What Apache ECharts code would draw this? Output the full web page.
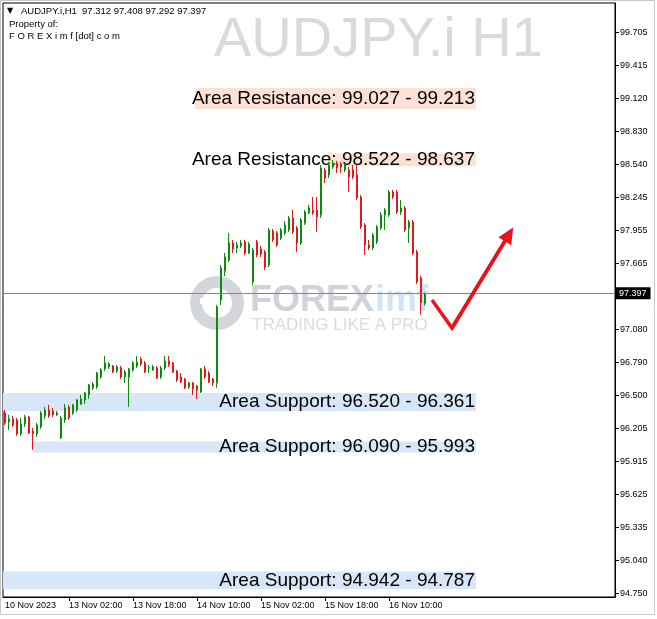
<!DOCTYPE html>
<html>
<head>
<meta charset="utf-8">
<script src="https://cdn.jsdelivr.net/npm/echarts@6/dist/echarts.min.js"></script>
<style>html,body{margin:0;padding:0;background:#fff}#c{width:657px;height:619px}</style>
</head>
<body>
<div id="c"></div>
<script>
// ---- data (AUDJPY.i H1, one bar per hour, first bar 10 Nov 2023 10:00) ----
const openPrices = [96.343,96.264,96.290,96.281,96.158,96.246,96.308,96.184,96.158,96.219,96.317,96.369,96.361,96.326,96.122,96.281,96.396,96.343,96.369,96.422,96.458,96.502,96.564,96.573,96.661,96.732,96.749,96.758,96.714,96.740,96.661,96.661,96.723,96.758,96.820,96.785,96.740,96.723,96.740,96.661,96.740,96.802,96.785,96.714,96.661,96.643,96.573,96.608,96.581,96.528,96.732,96.696,96.643,96.608,97.341,97.597,97.694,97.844,97.800,97.818,97.853,97.756,97.500,97.853,97.791,97.765,97.650,97.950,97.933,97.888,97.933,97.959,98.065,97.977,97.844,98.021,98.109,98.136,98.136,98.092,98.489,98.445,98.516,98.551,98.542,98.489,98.489,98.489,98.445,98.251,98.003,97.827,97.800,97.853,97.977,98.092,98.092,98.295,98.295,98.118,98.153,97.977,98.030,97.765,97.536,97.312];
const closePrices = [96.255,96.290,96.237,96.158,96.246,96.308,96.166,96.158,96.237,96.343,96.369,96.317,96.326,96.343,96.299,96.387,96.299,96.414,96.458,96.467,96.520,96.590,96.599,96.696,96.723,96.785,96.776,96.705,96.749,96.661,96.705,96.732,96.785,96.793,96.776,96.705,96.741,96.749,96.652,96.740,96.802,96.767,96.705,96.634,96.617,96.564,96.608,96.555,96.546,96.732,96.661,96.617,96.608,97.279,97.623,97.721,97.844,97.791,97.827,97.844,97.756,97.835,97.782,97.738,97.747,97.632,97.959,97.871,97.827,97.959,98.003,98.065,97.941,97.844,98.047,98.118,98.153,98.109,98.074,98.507,98.418,98.533,98.551,98.507,98.516,98.533,98.427,98.427,98.242,97.986,97.827,97.800,97.915,97.986,98.092,98.136,98.295,98.251,98.118,98.153,97.959,98.030,97.756,97.500,97.315,97.397];
const lowPrices = [96.237,96.193,96.219,96.140,96.140,96.219,96.158,96.016,96.131,96.202,96.290,96.299,96.308,96.317,96.113,96.255,96.281,96.326,96.352,96.414,96.422,96.467,96.546,96.555,96.643,96.714,96.732,96.696,96.696,96.643,96.608,96.396,96.705,96.740,96.758,96.696,96.696,96.714,96.643,96.643,96.723,96.749,96.696,96.617,96.608,96.555,96.555,96.502,96.467,96.520,96.643,96.608,96.581,96.564,97.297,97.553,97.677,97.756,97.756,97.800,97.738,97.747,97.474,97.721,97.721,97.606,97.632,97.853,97.809,97.871,97.915,97.941,97.924,97.765,97.827,98.003,98.100,98.092,97.941,98.065,98.374,98.418,98.498,98.463,98.463,98.471,98.295,98.410,98.224,97.968,97.738,97.782,97.782,97.835,97.959,97.959,98.074,98.233,98.100,98.092,97.941,97.844,97.738,97.483,97.209,97.292];
const highPrices = [96.369,96.326,96.317,96.299,96.299,96.326,96.317,96.210,96.255,96.361,96.396,96.414,96.387,96.361,96.317,96.422,96.414,96.422,96.467,96.502,96.528,96.599,96.617,96.705,96.740,96.846,96.793,96.767,96.767,96.758,96.723,96.740,96.802,96.846,96.838,96.802,96.767,96.767,96.758,96.758,96.846,96.846,96.793,96.723,96.696,96.652,96.617,96.617,96.590,96.740,96.758,96.714,96.652,97.297,97.650,97.756,97.933,97.871,97.853,97.871,97.871,97.853,97.800,97.871,97.818,97.782,97.977,97.968,97.950,97.977,98.038,98.083,98.136,97.994,98.065,98.136,98.180,98.251,98.251,98.533,98.507,98.560,98.577,98.569,98.560,98.551,98.516,98.533,98.533,98.268,98.021,97.871,97.933,98.003,98.118,98.153,98.312,98.312,98.312,98.224,98.171,98.047,98.047,97.782,97.553,97.408];
const lastPrice = 97.397;
const xTickLabels = ['10 Nov 2023','13 Nov 02:00','13 Nov 18:00','14 Nov 10:00','15 Nov 02:00','15 Nov 18:00','16 Nov 10:00'];
const yTickValues = [99.705,99.415,99.120,98.830,98.540,98.245,97.955,97.665,97.080,96.790,96.500,96.205,95.915,95.625,95.335,95.040,94.750];
// zones
const zoneLow   = [99.027, 98.522, 96.361, 95.993, 94.787];
const zoneHigh  = [99.213, 98.637, 96.520, 96.090, 94.942];
const zoneFromBar = [47.5, 80.75, -0.5, 7, -0.5];
const zoneToBar   = [117.75, 117.75, 117.75, 117.75, 117.75];
const zoneText  = ['Area Resistance: 99.027 - 99.213','Area Resistance: 98.522 - 98.637','Area Support: 96.520 - 96.361','Area Support: 96.090 - 95.993','Area Support: 94.942 - 94.787'];
const zoneIsResistance = [true, true, false, false, false];
// projected path (bar position, price); last point is the arrow head
const arrowBars = [106.75, 111.75, 126.0];
const arrowPrices = [97.341, 97.093, 97.920];

// ---- categories: hourly bars, weekend skipped ----
const MON = ['Jan','Feb','Mar','Apr','May','Jun','Jul','Aug','Sep','Oct','Nov','Dec'];
const TOTAL_SLOTS = 153;
const categories = [];
let t = Date.UTC(2023, 10, 10, 10);
while (categories.length < TOTAL_SLOTS) {
  const d = new Date(t);
  const wd = d.getUTCDay();
  if (wd !== 0 && wd !== 6) {
    categories.push(d.getUTCDate() + ' ' + MON[d.getUTCMonth()] + ' ' + String(d.getUTCHours()).padStart(2,'0') + ':00');
  }
  t += 3600000;
}

const candleData = openPrices.map((o, i) => [o, closePrices[i], lowPrices[i], highPrices[i]]);
const FONT = 'Liberation Sans';
const chart = echarts.init(document.getElementById('c'), null, {renderer: 'canvas'});

const zoneAreas = zoneLow.map((lo, i) => [
  {
    coord: [zoneFromBar[i], zoneHigh[i]],
    itemStyle: {color: zoneIsResistance[i] ? '#fde1d5' : '#d8e7f7'},
    label: {show: true, position: 'insideRight', distance: 1, formatter: zoneText[i], fontSize: 19, color: '#000', fontFamily: FONT}
  },
  {coord: [zoneToBar[i], lo]}
]);

const option = {
  backgroundColor: '#fff',
  animation: false,
  grid: {left: 3, top: 3, right: 42, bottom: 22, show: true, borderColor: '#000', borderWidth: 1},
  xAxis: [
    {
      type: 'category', data: categories, boundaryGap: true,
      axisLine: {show: true, onZero: false, lineStyle: {color: '#000', width: 1}},
      axisTick: {show: true, alignWithLabel: true, length: 4, interval: (i) => i > 0 && i % 16 === 0 && i <= 96, lineStyle: {color: '#000'}},
      axisLabel: {interval: (i) => i % 16 === 0 && i <= 96, formatter: (v, i) => xTickLabels[i / 16], align: 'left', fontSize: 9, color: '#000', margin: 4, fontFamily: FONT},
      splitLine: {show: false}
    },
    {type: 'value', min: -0.5, max: TOTAL_SLOTS - 0.5, show: false, axisLine: {onZero: false}}
  ],
  yAxis: {
    type: 'value', position: 'right', min: 94.717, max: 99.964, scale: true,
    axisLine: {show: true, onZero: false, lineStyle: {color: '#000', width: 1}},
    axisTick: {show: true, customValues: yTickValues, length: 4, lineStyle: {color: '#000'}},
    axisLabel: {customValues: yTickValues, formatter: (v) => v.toFixed(3), fontSize: 9, color: '#000', margin: 5, fontFamily: FONT},
    splitLine: {show: false}
  },
  graphic: [
    {type: 'rect', shape: {x: 0.5, y: 0.5, width: 654, height: 614}, style: {fill: 'none', stroke: '#c8c8c8', lineWidth: 1}, z: -10},
    {type: 'text', left: 214, top: 13, style: {text: 'AUDJPY.i H1', font: '56px "Liberation Sans"', fill: '#dadada'}, z: -5},
    {type: 'circle', shape: {cx: 217, cy: 303, r: 21}, style: {fill: 'none', stroke: '#d4d6dd', lineWidth: 12}, z: -5},
    {type: 'rect', shape: {x: 200, y: 298, width: 24, height: 6}, style: {fill: '#ffffff'}, z: -4},
    {type: 'text', left: 250, top: 283, style: {text: 'FOREX', font: 'bold 36px "Liberation Sans"', fill: '#d0d3da'}, z: -5},
    {type: 'text', left: 375, top: 283, style: {text: 'imf', font: 'bold 36px "Liberation Sans"', fill: '#d2e4f3'}, z: -5},
    {type: 'text', left: 252, top: 317, style: {text: 'TRADING LIKE A PRO', font: '17px "Liberation Sans"', fill: '#dbdbdb'}, z: -5},
    {type: 'text', left: 7, top: 7, style: {text: '\u25BC', font: '8px "DejaVu Sans"', fill: '#000'}},
    {type: 'text', left: 21, top: 6, style: {text: 'AUDJPY.i,H1  97.312 97.408 97.292 97.397', font: '9.5px "Liberation Sans"', fill: '#000'}},
    {type: 'text', left: 9, top: 19, style: {text: 'Property of:', font: '9.5px "Liberation Sans"', fill: '#000'}},
    {type: 'text', left: 9, top: 31, style: {text: 'F O R E X i m f [dot] c o m', font: '9.5px "Liberation Sans"', fill: '#000'}}
  ],
  series: [
    {
      type: 'line', xAxisIndex: 1, data: [[0, 94.5]], showSymbol: false, silent: true,
      lineStyle: {opacity: 0}, z: 1,
      markArea: {silent: true, data: zoneAreas}
    },
    {
      type: 'candlestick', name: 'AUDJPY.i', data: candleData, barWidth: 2, z: 3,
      itemStyle: {color: '#0e8a0e', color0: '#e2191b', borderColor: '#0e8a0e', borderColor0: '#e2191b', borderWidth: 1},
      markLine: {
        silent: true, symbol: ['none', 'none'], animation: false,
        lineStyle: {color: '#7b8a9b', width: 1, type: 'solid'},
        label: {position: 'end', distance: 1, formatter: lastPrice.toFixed(3), backgroundColor: '#000', color: '#fff', padding: [2, 4, 1, 3], fontSize: 9, fontFamily: FONT},
        data: [{yAxis: lastPrice}]
      }
    },
    {
      type: 'line', xAxisIndex: 1, data: arrowBars.map((b, i) => [b, arrowPrices[i]]),
      showSymbol: false, silent: true, z: 5,
      lineStyle: {color: '#e8131d', width: 3.5, join: 'miter', cap: 'butt'},
      markLine: {
        silent: true, symbol: ['none', 'triangle'], symbolSize: [15, 16], animation: false,
        lineStyle: {color: '#e8131d', width: 3.5, type: 'solid'}, label: {show: false},
        data: [[{coord: [arrowBars[1], arrowPrices[1]]}, {coord: [arrowBars[2], arrowPrices[2]]}]]
      }
    }
  ]
};
chart.setOption(option);
</script>
</body>
</html>
